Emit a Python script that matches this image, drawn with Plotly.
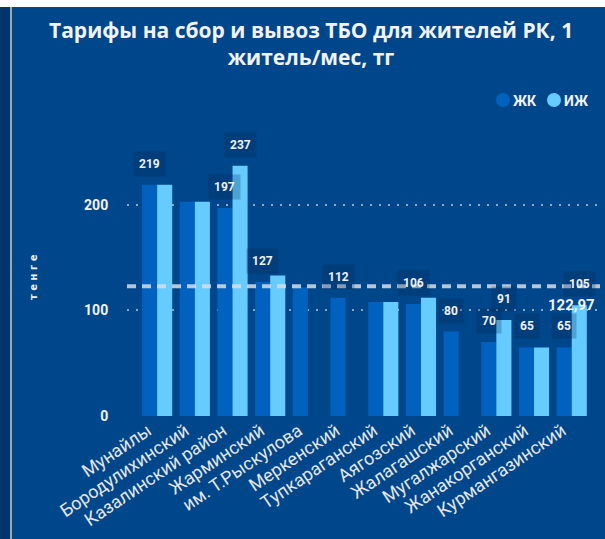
import plotly.graph_objects as go

categories = ["Мунайлы", "Бородулихинский", "Казалинский район", "Жарминский",
              "им. Т.Рыскулова", "Меркенский", "Тупкараганский", "Аягозский",
              "Жалагашский", "Мугалжарский", "Жанакорганский", "Курмангазинский"]
zhk_values = [219, 203, 197, 127, 122, 112, 108, 106, 80, 70, 65, 65]
izh_values = [219, 203, 237, 133, None, None, 108, 112, None, 91, 65, 105]
zhk_label_shown = [1, 0, 1, 1, 0, 1, 0, 1, 1, 1, 1, 1]
izh_label_shown = [0, 0, 1, 0, 0, 0, 0, 0, 0, 1, 0, 1]
average_value = 122.97
average_text = "122,97"
y_ticks = [0, 100, 200]
series_names = ["ЖК", "ИЖ"]

BG = "#00468a"
C_ZHK = "#0061bf"
C_IZH = "#66ccff"
TXT = "#f2f2f2"

W, H = 605, 539
ML, MR, MT, MB = 127, 5, 150, 123
PW, PH = W - ML - MR, H - MT - MB

def px_x(p):
    return (p - ML) / PW

def px_y(q):
    return (H - MB - q) / PH

xidx = list(range(len(categories)))
TICK_SHIFT = 0.25  # tick label anchor offset (style)

fig = go.Figure()
fig.add_trace(go.Bar(x=xidx, y=zhk_values, name=series_names[0], marker_color=C_ZHK,
                     showlegend=False, marker_line_width=0))
fig.add_trace(go.Bar(x=xidx, y=izh_values, name=series_names[1], marker_color=C_IZH,
                     showlegend=False, marker_line_width=0))

annotations = []
label_font = dict(family="Roboto", size=12, color=TXT, weight="bold")
box = "rgba(0,35,80,0.25)"
for i in xidx:
    if zhk_label_shown[i] and zhk_values[i] is not None:
        annotations.append(dict(x=i - 0.2, y=zhk_values[i], xref="x", yref="y",
                                xanchor="center", yanchor="middle",
                                text=str(zhk_values[i]), showarrow=False, yshift=21,
                                font=label_font, bgcolor=box, borderpad=5))
    if izh_label_shown[i] and izh_values[i] is not None:
        annotations.append(dict(x=i + 0.2, y=izh_values[i], xref="x", yref="y",
                                xanchor="center", yanchor="middle",
                                text=str(izh_values[i]), showarrow=False, yshift=21,
                                font=label_font, bgcolor=box, borderpad=5))

# average label
annotations.append(dict(x=px_x(597), y=average_value, xref="paper", yref="y",
                        xanchor="right", yanchor="middle", text=average_text,
                        showarrow=False, yshift=-19,
                        font=dict(family="Roboto", size=15, color=TXT, weight="bold")))

# y axis title
annotations.append(dict(x=px_x(33), y=px_y(277), xref="paper", yref="paper",
                        xanchor="center", yanchor="middle",
                        text="т е н г е", textangle=-90, showarrow=False,
                        font=dict(family="DejaVu Sans", size=10, color=TXT, weight="bold")))

# legend (circle markers + text)
legend_items = [(series_names[0], C_ZHK, 503, 511), (series_names[1], C_IZH, 554, 562)]
shapes = []
for name, col, cx, tx in legend_items:
    shapes.append(dict(type="circle", xref="paper", yref="paper",
                       xsizemode="pixel", ysizemode="pixel",
                       xanchor=px_x(cx), yanchor=px_y(100),
                       x0=-7, x1=7, y0=-7, y1=7, fillcolor=col, line_width=0))
    annotations.append(dict(x=px_x(tx), y=px_y(101), xref="paper", yref="paper",
                            xanchor="left", yanchor="middle", text=name, showarrow=False,
                            font=dict(family="Roboto", size=14, color=TXT, weight="bold")))

# title
annotations.append(dict(x=px_x(311), y=px_y(43), xref="paper", yref="paper",
                        xanchor="center", yanchor="middle",
                        text="Тарифы на сбор и вывоз ТБО для жителей РК, 1<br>житель/мес, тг",
                        showarrow=False, align="center",
                        font=dict(family="Open Sans", size=21, color=TXT, weight="bold")))

shapes += [
    # average line
    dict(type="line", xref="paper", yref="y", x0=0, x1=1, y0=average_value, y1=average_value,
         line=dict(color="rgba(215,220,230,0.85)", width=4, dash="9px,6px")),
    # top white strip
    dict(type="rect", xref="paper", yref="paper", x0=px_x(0), x1=px_x(W), y0=px_y(7), y1=px_y(0),
         fillcolor="white", line_width=0, layer="above"),
    # left dark strip
    dict(type="rect", xref="paper", yref="paper", x0=px_x(0), x1=px_x(10), y0=px_y(H), y1=px_y(7),
         fillcolor="#00356d", line_width=0, layer="above"),
    dict(type="rect", xref="paper", yref="paper", x0=px_x(10), x1=px_x(12), y0=px_y(H), y1=px_y(7),
         fillcolor="#9aa8b8", line_width=0, layer="above"),
]

fig.update_layout(
    width=W, height=H,
    margin=dict(l=ML, r=MR, t=MT, b=MB, autoexpand=False),
    paper_bgcolor=BG, plot_bgcolor=BG,
    barmode="group", bargap=0.2, bargroupgap=0,
    annotations=annotations, shapes=shapes,
    showlegend=False,
    xaxis=dict(tickmode="array", tickvals=[i - TICK_SHIFT for i in xidx], ticktext=categories,
               tickangle=-34,
               range=[-0.8, 11.75], showgrid=False, zeroline=False, showline=False,
               tickfont=dict(family="Roboto", size=18, color="#e6e6e6")),
    yaxis=dict(tickmode="array", tickvals=y_ticks, range=[0, 252], zeroline=False,
               showline=False, showgrid=True, gridcolor="rgba(200,210,225,0.7)",
               gridwidth=1.5, griddash="2px,7px", ticks="outside", ticklen=15,
               tickcolor="rgba(0,0,0,0)",
               tickfont=dict(family="Roboto", size=14, color=TXT, weight="bold")),
)

fig.write_html("out.html", config={"displayModeBar": False},
               post_script="document.body.style.margin='0';document.body.style.background='%s';" % BG)
